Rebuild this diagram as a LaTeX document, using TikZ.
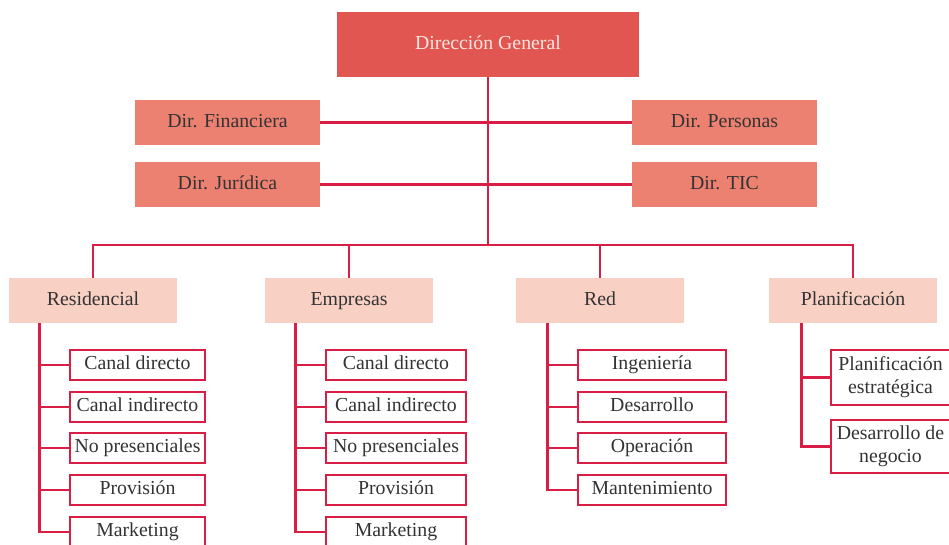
\documentclass[tikz,border=0pt]{standalone}
\usepackage{fontspec}
\setmainfont{Liberation Serif}
\definecolor{crimson}{HTML}{D81E44}
\definecolor{coral}{HTML}{E25651}
\definecolor{salmon}{HTML}{EC8171}
\definecolor{blush}{HTML}{F8D0C4}
\definecolor{ink}{HTML}{333333}
\definecolor{paleink}{HTML}{FCE6E1}
\usetikzlibrary{calc, positioning}

\begin{document}
\begin{tikzpicture}[
  x=0.5pt, y=-0.5pt,
  font=\fontsize{9.9}{11.5}\selectfont,
  link/.style={draw=crimson, line width=1.25pt},
  oneline/.style={text height=6.8pt, text depth=2.2pt},
  head/.style={oneline, fill=coral, text=paleink, minimum width=151pt,
               minimum height=32.5pt, inner sep=0pt},
  dirbox/.style={oneline, fill=salmon, text=ink, minimum width=92.5pt,
                 minimum height=22.5pt, inner sep=0pt},
  area/.style={oneline, fill=blush, text=ink, minimum width=84pt,
               minimum height=22.5pt, inner sep=0pt},
  unitbox/.style={draw=crimson, line width=0.7pt, fill=white, text=ink,
                  minimum height=15pt, inner sep=0pt, align=center},
  unit/.style={unitbox, oneline},
]
\useasboundingbox (0,0) rectangle (949,545);

% direccion y staff
\node[head] (dg) at (488,44.5) {Dirección General};
\node[dirbox] (fin) at (227.5,122.5) {Dir. Financiera};
\node[dirbox] (jur) at (227.5,184.5) {Dir. Jurídica};
\node[dirbox] (per) at (724.5,122.5) {Dir. Personas};
\node[dirbox] (tic) at (724.5,184.5) {Dir. TIC};
\coordinate (hub) at (488,245);

\draw[link] (fin.east) -- (per.west);
\draw[link] (jur.east) -- (tic.west);
\draw[link] (dg.south) -- (hub);

% areas
\node[area] (res) at (93,300.5) {Residencial};
\node[area] (emp) at (349,300.5) {Empresas};
\node[area] (red) at (600,300.5) {Red};
\node[area] (pla) at (853,300.5) {Planificación};

\draw[link] (hub) -| (res.north);
\draw[link] (hub) -| (emp.north);
\draw[link] (hub) -| (red.north);
\draw[link] (hub) -| (pla.north);

% Residencial
\node[unit, minimum width=67.5pt] (res1) at (137.5,365) {Canal directo};
\node[unit, minimum width=67.5pt] (res2) at (137.5,407) {Canal indirecto};
\node[unit, minimum width=67.5pt] (res3) at (137.5,448) {No presenciales};
\node[unit, minimum width=67.5pt] (res4) at (137.5,490) {Provisión};
\node[unit, minimum width=67.5pt] (res5) at (137.5,532) {Marketing};
\foreach \i in {1,...,5}
  \draw[link] ([xshift=15.5pt]res.south west) |- (res\i.west);

% Empresas
\node[unit, minimum width=70pt] (emp1) at (396,365) {Canal directo};
\node[unit, minimum width=70pt] (emp2) at (396,407) {Canal indirecto};
\node[unit, minimum width=70pt] (emp3) at (396,448) {No presenciales};
\node[unit, minimum width=70pt] (emp4) at (396,490) {Provisión};
\node[unit, minimum width=70pt] (emp5) at (396,532) {Marketing};
\foreach \i in {1,...,5}
  \draw[link] ([xshift=15.5pt]emp.south west) |- (emp\i.west);

% Red
\node[unit, minimum width=74pt] (red1) at (652,365) {Ingeniería};
\node[unit, minimum width=74pt] (red2) at (652,407) {Desarrollo};
\node[unit, minimum width=74pt] (red3) at (652,448) {Operación};
\node[unit, minimum width=74pt] (red4) at (652,490) {Mantenimiento};
\foreach \i in {1,...,4}
  \draw[link] ([xshift=16pt]red.south west) |- (red\i.west);

% Planificacion
\node[unitbox, minimum width=59.5pt, minimum height=27.5pt] (pla1) at (890.5,377.5) {Planificación\\estratégica};
\node[unitbox, minimum width=59.5pt, minimum height=26.5pt] (pla2) at (890.5,446.5) {Desarrollo de\\negocio};
\foreach \i in {1,2}
  \draw[link] ([xshift=16.5pt]pla.south west) |- (pla\i.west);
\end{tikzpicture}
\end{document}
